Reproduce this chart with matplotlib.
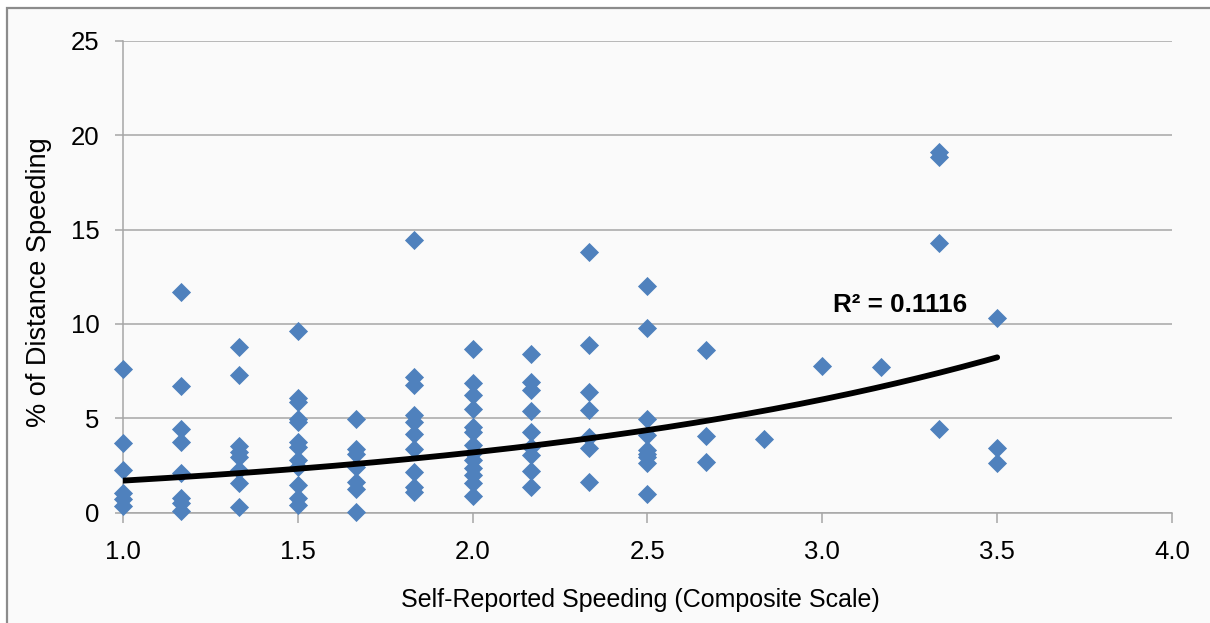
import matplotlib
matplotlib.use("Agg")
import matplotlib.pyplot as plt
from matplotlib.patches import Rectangle
import numpy as np

# ---- data ----
x_levels = [1.0, 1.167, 1.333, 1.5, 1.667, 1.833, 2.0, 2.167,
            2.333, 2.5, 2.667, 2.833, 3.0, 3.167, 3.333, 3.5]
y_groups = [
    [7.6, 3.7, 2.25, 1.05, 0.7, 0.35],
    [11.67, 6.7, 4.45, 3.75, 2.1, 0.75, 0.5, 0.07],
    [8.75, 7.3, 3.55, 3.22, 2.95, 2.25, 1.55, 0.3],
    [9.65, 6.05, 5.85, 4.98, 4.8, 3.72, 3.48, 2.78, 2.4, 1.45, 0.75, 0.4],
    [4.98, 3.35, 3.1, 2.4, 1.6, 1.25, 0.05],
    [14.44, 7.2, 6.75, 5.15, 4.82, 4.15, 3.35, 2.15, 1.37, 1.1],
    [8.66, 6.85, 6.23, 5.47, 4.55, 4.28, 3.58, 3.14, 2.78, 2.34, 1.99, 1.55, 0.86],
    [8.4, 6.92, 6.49, 5.38, 4.25, 3.49, 3.05, 2.22, 1.37],
    [13.79, 8.88, 6.4, 5.43, 4.02, 3.42, 1.63],
    [12.02, 9.78, 4.98, 4.11, 3.3, 3.12, 2.95, 2.62, 1.0],
    [8.61, 4.05, 2.69],
    [3.88],
    [7.78],
    [7.73],
    [19.1, 18.86, 14.3, 4.41],
    [10.29, 3.4, 2.64],
]
speed_scale = [x for x, ys in zip(x_levels, y_groups) for _ in ys]
pct_distance = [y for ys in y_groups for y in ys]

# exponential trend line y = a * exp(b x)
trend_a = 0.8975
trend_b = 0.633
trend_x_range = [1.0, 3.5]
r2_text = "R\u00b2 = 0.1116"

x_ticks = [1.0, 1.5, 2.0, 2.5, 3.0, 3.5, 4.0]
y_ticks = [0, 5, 10, 15, 20, 25]

# ---- figure ----
plt.rcParams['font.family'] = ['Liberation Sans', 'DejaVu Sans']
W, H = 1210, 623
fig = plt.figure(figsize=(W / 100, H / 100), dpi=100)
fig.patch.set_facecolor('white')

bg = '#fafafa'
frame = Rectangle((7 / W, -0.05), 1.1, (H - 8) / H + 0.05,
                  transform=fig.transFigure, facecolor=bg,
                  edgecolor='#8c8c8c', linewidth=1.6, zorder=-10)
fig.patches.append(frame)

ax = fig.add_axes([123 / W, (H - 512.5) / H, (1172 - 123) / W, (512.5 - 41) / H])
ax.set_zorder(1)
ax.set_facecolor(bg)

grid_col = '#a6a6a6'
ax.set_xlim(1.0, 4.0)
ax.set_ylim(0, 25)
ax.set_xticks(x_ticks)
ax.set_xticklabels([f"{t:.1f}" for t in x_ticks])
ax.set_yticks(y_ticks)
ax.set_yticklabels([str(t) for t in y_ticks])
ax.yaxis.grid(True, color=grid_col, linewidth=1.1)
ax.set_axisbelow(True)
for s in ['top', 'right']:
    ax.spines[s].set_visible(False)
for s in ['left', 'bottom']:
    ax.spines[s].set_color(grid_col)
    ax.spines[s].set_linewidth(1.1)
ax.tick_params(axis='both', colors=grid_col, labelcolor='black', labelsize=18.5,
               width=1.1)
ax.tick_params(axis='y', length=6, pad=11)
ax.tick_params(axis='x', length=7, pad=13)

ax.scatter(speed_scale, pct_distance, marker='D', s=95, color='#4F81BD',
           linewidths=0, zorder=3, clip_on=False)

tx = np.linspace(trend_x_range[0], trend_x_range[1], 200)
ax.plot(tx, trend_a * np.exp(trend_b * tx), color='black', linewidth=4.2,
        solid_capstyle='round', zorder=4)

ax.text(3.03, 11.0, r2_text, fontsize=18.7, fontweight='bold', ha='left',
        va='center', zorder=5)

ax.set_xlabel("Self-Reported Speeding (Composite Scale)", fontsize=18)
ax.set_ylabel("% of Distance Speeding", fontsize=19.5)
ax.xaxis.set_label_coords(0.493, -0.160)
ax.yaxis.set_label_coords(-0.068, 0.488)

fig.savefig("out.png", dpi=100, facecolor='white')
